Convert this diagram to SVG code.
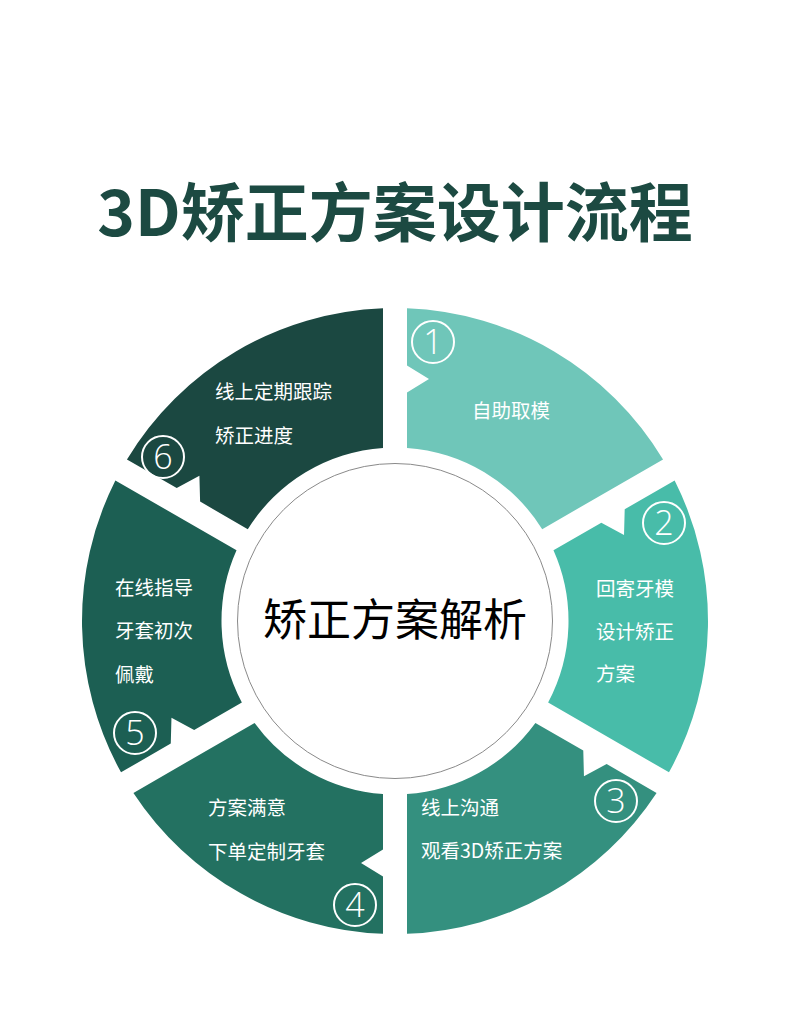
<svg xmlns="http://www.w3.org/2000/svg" width="790" height="1010" viewBox="0 0 790 1010">
<defs>
<style>
.t{font-family:"Noto Sans CJK SC","Noto Sans",sans-serif;font-size:19.5px;fill:#ffffff}
.n{font-family:"Open Sans","Noto Sans",sans-serif;font-weight:300;font-size:34px;fill:#ffffff;text-anchor:middle}
.c{fill:none;stroke:#ffffff;stroke-width:2}
</style>
</defs>
<rect width="790" height="1010" fill="#ffffff"/>
<text x="395" y="236" text-anchor="middle" font-family="Noto Sans CJK SC, sans-serif" font-size="64" font-weight="bold" fill="#1c4a42">3D矫正方案设计流程</text>
<g id="connectors"></g>
<g id="node1">
<path fill="#6fc6b9" d="M 407,447.92 L 407,392.5 L 429,379 L 407,365.5 L 407,308.23 A 313 313 0 0 1 663.04,459.39 L 542.20,529.16 A 173.5 173.5 0 0 0 407,447.92 Z"/>
<circle class="c" cx="433" cy="342" r="21"/>
<text class="n" x="433" y="354">1</text>
<text class="t" x="472" y="418">自助取模</text>
</g>
<g id="node2">
<path fill="#48bca9" d="M 553.47,550.36 L 601.33,522.72 L 624.02,535.02 L 624.71,509.22 L 674.64,480.40 A 313 313 0 0 1 668.98,772.33 L 548.13,702.56 A 173.5 173.5 0 0 0 553.47,550.36 Z"/>
<circle class="c" cx="664" cy="523" r="21"/>
<text class="n" x="664" y="535">2</text>
<text class="t" x="596" y="596">回寄牙模</text>
<text class="t" x="596" y="639">设计矫正</text>
<text class="t" x="596" y="681">方案</text>
</g>
<g id="node3">
<path fill="#34907f" d="M 535.41,722.92 L 583.27,750.56 L 583.96,776.36 L 606.65,764.06 L 656.58,792.88 A 313 313 0 0 1 407,933.77 L 407,794.08 A 173.5 173.5 0 0 0 535.41,722.92 Z"/>
<circle class="c" cx="616" cy="801" r="21"/>
<text class="n" x="616" y="813">3</text>
<text class="t" x="421" y="815">线上沟通</text>
<text class="t" x="421" y="858">观看3D矫正方案</text>
</g>
<g id="node4">
<path fill="#237161" d="M 383,794.08 L 383,849.5 L 361,863 L 383,876.5 L 383,933.77 A 313 313 0 0 1 133.42,792.88 L 254.59,722.92 A 173.5 173.5 0 0 0 383,794.08 Z"/>
<circle class="c" cx="355" cy="905" r="21"/>
<text class="n" x="355" y="917">4</text>
<text class="t" x="208" y="815">方案满意</text>
<text class="t" x="208" y="859">下单定制牙套</text>
</g>
<g id="node5">
<path fill="#1c5f53" d="M 241.87,702.56 L 194.16,730.11 L 171.47,717.81 L 170.78,743.61 L 121.02,772.33 A 313 313 0 0 1 115.36,480.40 L 236.53,550.36 A 173.5 173.5 0 0 0 241.87,702.56 Z"/>
<circle class="c" cx="135" cy="733" r="21"/>
<text class="n" x="135" y="745">5</text>
<text class="t" x="115" y="595">在线指导</text>
<text class="t" x="115" y="638">牙套初次</text>
<text class="t" x="115" y="682">佩戴</text>
</g>
<g id="node6">
<path fill="#1b4841" d="M 247.80,529.16 L 200.10,501.61 L 199.41,475.81 L 176.72,488.11 L 126.96,459.39 A 313 313 0 0 1 383,308.23 L 383,447.92 A 173.5 173.5 0 0 0 247.80,529.16 Z"/>
<circle class="c" cx="163" cy="457" r="21"/>
<text class="n" x="163" y="469">6</text>
<text class="t" x="215" y="399">线上定期跟踪</text>
<text class="t" x="215" y="443">矫正进度</text>
</g>
<g id="center">
<circle cx="395" cy="621" r="157.5" fill="#ffffff" stroke="#8a8a8a" stroke-width="1"/>
<text x="395" y="636" text-anchor="middle" font-family="Noto Sans CJK SC, sans-serif" font-size="44" fill="#000000">矫正方案解析</text>
</g>
</svg>
